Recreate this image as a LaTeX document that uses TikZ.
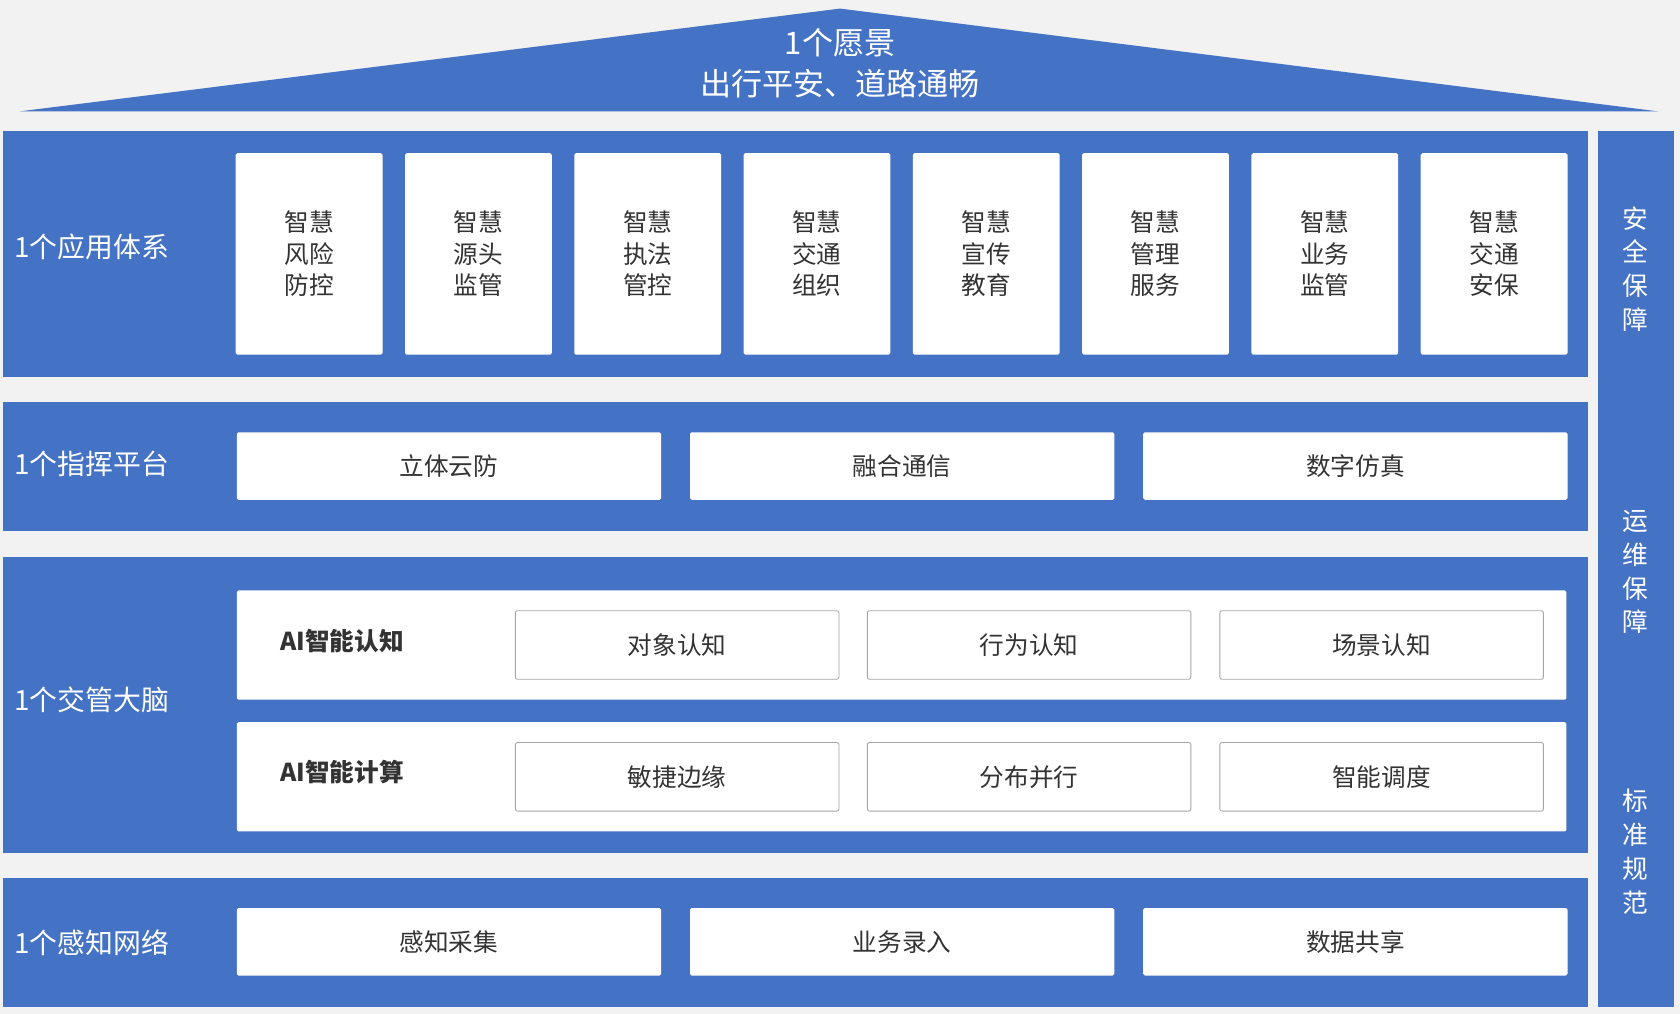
\documentclass[tikz,border=0pt]{standalone}
\usepackage{fontspec}
\setmainfont{Noto Sans CJK SC}
\begin{document}
\begin{tikzpicture}[x=1pt,y=-1pt,
  band/.style={fill=blue1,draw=none},
  wbox/.style={fill=white,draw=none,rounded corners=1.5pt,text=txt,font=\fontsize{23}{27}\selectfont,align=center},
  obox/.style={fill=white,draw=gray!70,line width=0.8pt,rounded corners=2pt,text=txt,font=\fontsize{23}{27}\selectfont},
  lab/.style={anchor=west,text=white,font=\fontsize{26}{30}\selectfont},
  vlab/.style={text=white,font=\fontsize{24}{31.5}\selectfont,align=center}]
\definecolor{blue1}{HTML}{4472C4}
\definecolor{txt}{HTML}{333333}
\definecolor{bg}{HTML}{F2F2F2}
\fill[bg] (0,0) rectangle (1568,946);
\useasboundingbox (0,0) rectangle (1568,946);
% roof
\fill[blue1] (18,104) -- (784,8) -- (1548,104) -- cycle;
\node[text=white,font=\fontsize{29}{38}\selectfont,align=center] (vision) at (784,59) {1个愿景\\出行平安、道路通畅};
% bands
\fill[band] (3,122) rectangle (1482,352);
\fill[band] (3,375) rectangle (1482,496);
\fill[band] (3,520) rectangle (1482,796);
\fill[band] (3,819) rectangle (1482,940);
\fill[band] (1491,122) rectangle (1562,940);
\node[lab] (l1) at (10,230) {1个应用体系};
\node[lab] (l2) at (10,433) {1个指挥平台};
\node[lab] (l3) at (10,653) {1个交管大脑};
\node[lab] (l4) at (10,880) {1个感知网络};
% app boxes
\foreach \i/\t in {0/{智慧\\风险\\防控},1/{智慧\\源头\\监管},2/{智慧\\执法\\管控},3/{智慧\\交通\\组织},4/{智慧\\宣传\\教育},5/{智慧\\管理\\服务},6/{智慧\\业务\\监管},7/{智慧\\交通\\安保}}{
  \node[wbox,minimum width=137pt,minimum height=188pt,inner sep=0pt] (a\i) at ({288.5+158*\i},237) {};
  \node[text=txt,font=\fontsize{23}{29.5}\selectfont,align=center] (at\i) at ({288.5+158*\i},237) {\t};
}
% platform
\foreach \i/\t/\x in {1/立体云防/419,2/融合通信/842,3/数字仿真/1265}{
  \node[wbox,minimum width=396pt,minimum height=63pt] (p\i) at (\x,435) {\t};
  \node[wbox,minimum width=396pt,minimum height=63pt] (s\i) at (\x,879) {};
}
\node[text=txt,font=\fontsize{23}{27}\selectfont] (st1) at (s1) {感知采集};
\node[text=txt,font=\fontsize{23}{27}\selectfont] (st2) at (s2) {业务录入};
\node[text=txt,font=\fontsize{23}{27}\selectfont] (st3) at (s3) {数据共享};
% brain
\node[wbox,minimum width=1241pt,minimum height=102pt] (r1) at (841.5,602) {};
\node[wbox,minimum width=1241pt,minimum height=102pt] (r2) at (841.5,725) {};
\node[anchor=west,text=txt,font=\bfseries\fontsize{23}{27}\selectfont] (ai1) at (258,598) {AI智能认知};
\node[anchor=west,text=txt,font=\bfseries\fontsize{23}{27}\selectfont] (ai2) at (258,721) {AI智能计算};
\foreach \i/\t/\x in {1/对象认知/632,2/行为认知/960.5,3/场景认知/1289.5}{
  \node[obox,minimum width=302pt,minimum height=64pt] (c\i) at (\x,602) {\t};
}
\foreach \i/\t/\x in {1/敏捷边缘/632,2/分布并行/960.5,3/智能调度/1289.5}{
  \node[obox,minimum width=302pt,minimum height=64pt] (d\i) at (\x,725) {\t};
}
% right column
\node[vlab] (v1) at (1526,251) {安\\全\\保\\障};
\node[vlab] (v2) at (1526,534) {运\\维\\保\\障};
\node[vlab] (v3) at (1526,795) {标\\准\\规\\范};
\end{tikzpicture}
\end{document}
